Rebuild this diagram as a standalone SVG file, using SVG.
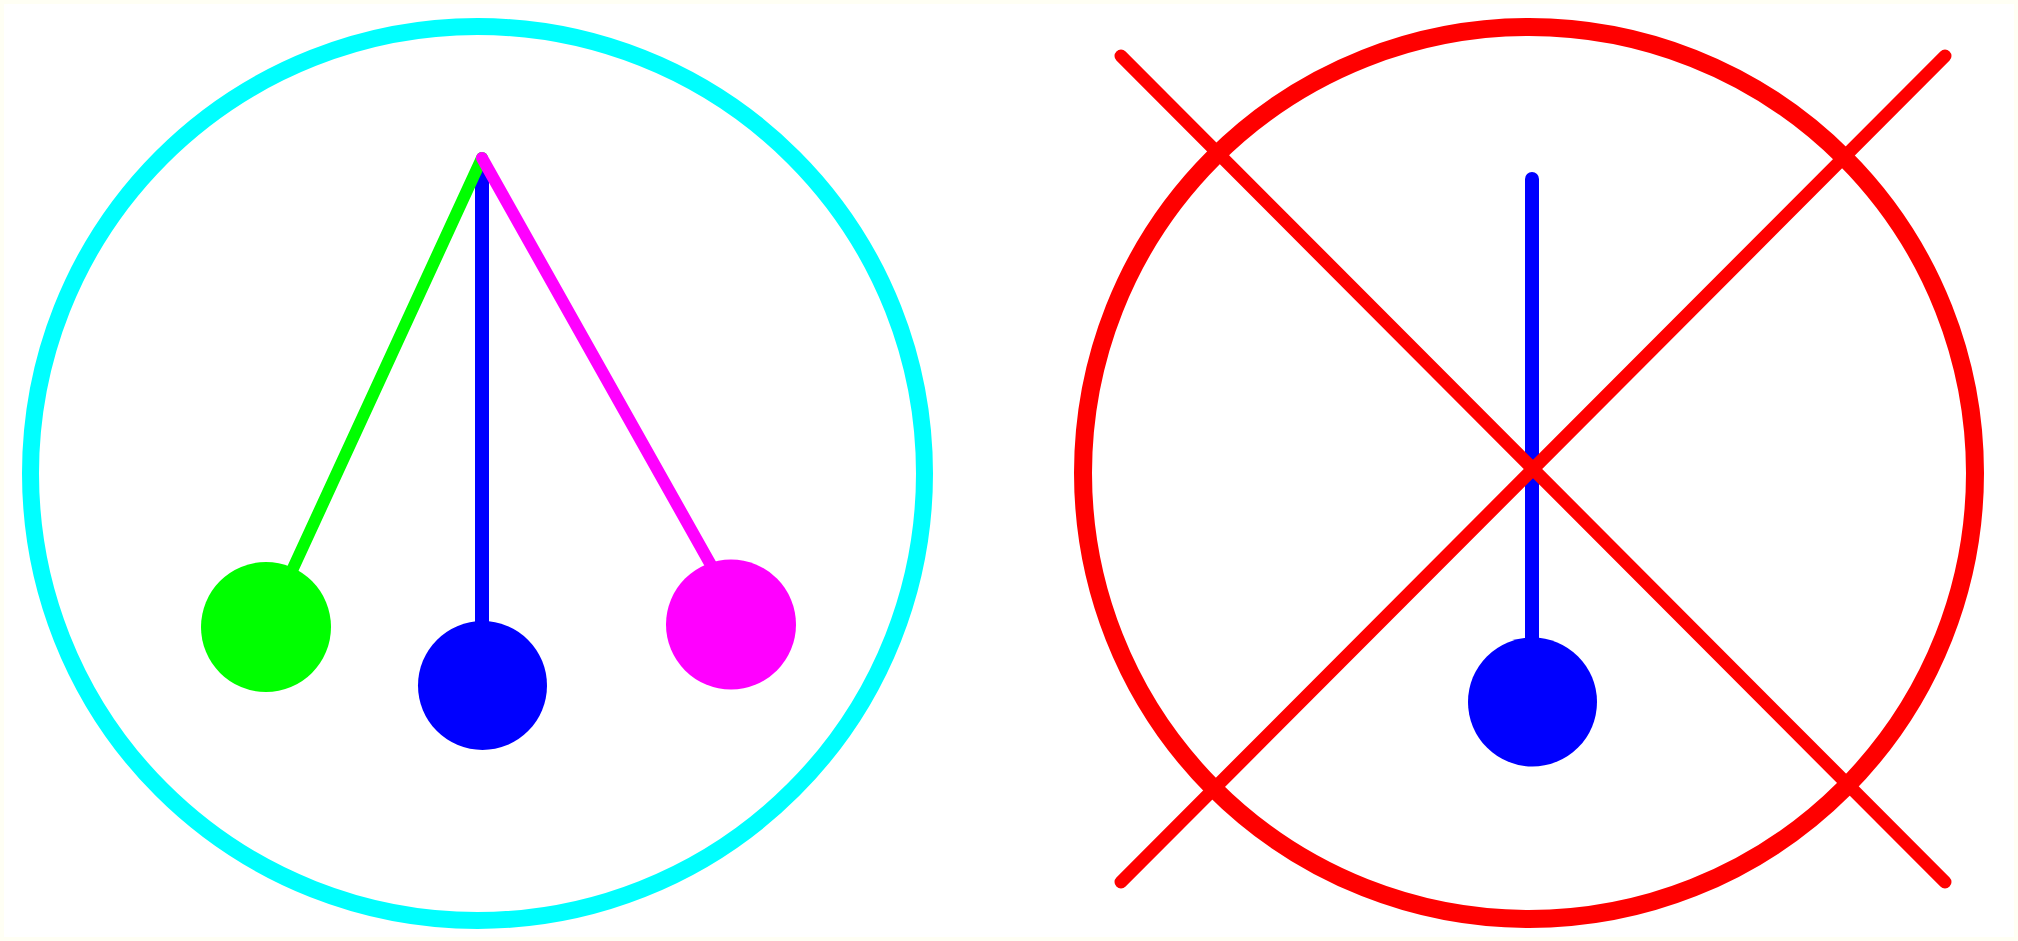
<svg xmlns="http://www.w3.org/2000/svg" width="2018" height="941" viewBox="0 0 2018 941">
  <style>
    .ring { fill: none; }
    .stem { stroke-linecap: round; fill: none; }
  </style>
  <rect x="0" y="0" width="2018" height="941" fill="#fffff4"/>
  <rect x="4" y="4" width="2010" height="933" fill="#ffffff"/>
  <g id="left-ring">
    <circle class="ring" cx="477.5" cy="473.5" r="447" stroke="#00ffff" stroke-width="17"/>
  </g>
  <g id="connectors">
    <line class="stem" x1="482" y1="170" x2="482" y2="685" stroke="#0000ff" stroke-width="14"/>
    <line class="stem" x1="482" y1="158" x2="266" y2="627" stroke="#00ff00" stroke-width="12"/>
    <line class="stem" x1="482" y1="158" x2="716" y2="574" stroke="#ff00ff" stroke-width="12"/>
    <line class="stem" x1="1532" y1="179" x2="1532" y2="702" stroke="#0000ff" stroke-width="14"/>
  </g>
  <g id="green-bob">
    <circle cx="266" cy="627" r="65" fill="#00ff00"/>
  </g>
  <g id="blue-bob-left">
    <circle cx="482.5" cy="685.5" r="64.5" fill="#0000ff"/>
  </g>
  <g id="magenta-bob">
    <circle cx="731" cy="624.5" r="65" fill="#ff00ff"/>
  </g>
  <g id="blue-bob-right">
    <circle cx="1532.5" cy="702" r="64.5" fill="#0000ff"/>
  </g>
  <g id="right-ring">
    <circle class="ring" cx="1529" cy="473" r="446" stroke="#ff0000" stroke-width="18"/>
    <line class="stem" x1="1121" y1="56" x2="1945" y2="882" stroke="#ff0000" stroke-width="13"/>
    <line class="stem" x1="1945" y1="56" x2="1121" y2="882" stroke="#ff0000" stroke-width="13"/>
  </g>
</svg>
